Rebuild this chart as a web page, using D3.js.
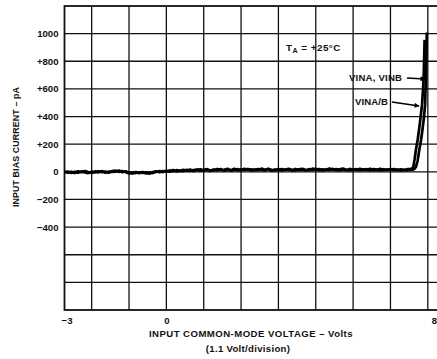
<!DOCTYPE html>
<html><head><meta charset="utf-8">
<script src="https://cdn.jsdelivr.net/npm/d3@7"></script>
<style>
html,body{margin:0;padding:0;background:#fff;}
svg{display:block;font-family:"Liberation Sans",Arial,Helvetica,sans-serif;font-weight:bold;}
</style></head><body>
<script>
// ---- data ----
const yTickValues = [1000, 800, 600, 400, 200, 0, -200, -400];
const yTickLabels = ["1000", "+800", "+600", "+400", "+200", "0", "\u2212200", "\u2212400"];
const xTickValues = [-3, 0, 8];
const xTickLabels = ["\u22123", "0", "8"];
const seriesNames = ["VINA, VINB", "VINA/B"];

const voltsFlat = [-3.0,-2.9,-2.8,-2.7,-2.6,-2.5,-2.4,-2.3,-2.2,-2.1,-2.0,-1.9,-1.8,-1.7,-1.6,-1.5,-1.4,-1.3,-1.2,-1.1,
 -1.0,-0.9,-0.8,-0.7,-0.6,-0.5,-0.4,-0.3,-0.2,-0.1,0.0,0.1,0.2,0.3,0.4,0.5,0.6,0.7,0.8,0.9,
 1.0,1.1,1.2,1.3,1.4,1.5,1.6,1.7,1.8,1.9,2.0,2.1,2.2,2.3,2.4,2.5,2.6,2.7,2.8,2.9,
 3.0,3.1,3.2,3.3,3.4,3.5,3.6,3.7,3.8,3.9,4.0,4.1,4.2,4.3,4.4,4.5,4.6,4.7,4.8,4.9,
 5.0,5.1,5.2,5.3,5.4,5.5,5.6,5.7,5.8,5.9,6.0,6.1,6.2,6.3,6.4,6.5,6.6,6.7,6.8,6.9,
 7.0,7.1,7.2];
const currentFlatA = [-5,2,-8,0,-6,3,-4,-9,1,-5,4,-3,2,-6,5,8,0,6,-2,-12,
 -6,-9,-3,-8,-4,-14,-2,4,-3,6,2,10,4,12,6,14,8,16,5,13,
 18,9,15,7,17,11,20,8,16,12,22,10,18,13,21,9,17,12,23,14,
 19,8,16,11,20,13,18,9,21,12,17,10,19,14,22,11,18,13,24,15,
 20,10,17,12,21,14,19,11,18,13,22,12,16,10,19,13,21,12,17,9,
 15,11,18];
const currentFlatB = [2,-7,1,-9,4,-3,5,-2,-8,3,-4,6,-7,1,-1,2,9,-3,4,-6,
 -12,-2,-10,-1,-12,-5,-9,0,5,-2,8,1,13,3,9,5,15,7,12,17,
 8,14,19,10,12,21,13,15,22,9,14,19,11,22,15,18,11,20,16,10,
 22,15,12,20,9,17,22,14,11,18,21,15,12,23,16,20,9,17,14,21,
 12,18,23,15,11,17,13,22,14,19,10,20,15,22,12,17,14,20,11,18,
 13,19,22];
const voltsRiseA = [7.25,7.30,7.35,7.40,7.45,7.50,7.53,7.58,7.62,7.645,7.66,7.67];
const currentRiseA = [14,20,35,80,160,230,283,380,486,703,850,1008];
const voltsRiseB = [7.25,7.28,7.31,7.35,7.40,7.43,7.48,7.53,7.56,7.58,7.60,7.605];
const currentRiseB = [25,45,90,160,230,283,380,486,600,703,900,955];

// ---- layout ----
const W = 437, H = 359;
const FONT = '"Liberation Sans",Arial,sans-serif';
const svg = d3.select("body").append("svg").attr("width", W).attr("height", H);
const x = d3.scaleLinear().domain([-3, 8]).range([64.5, 438]);
const y = d3.scaleLinear().domain([-1000, 1200]).range([310, 6]);

// grid
const vLines = [];
for (let k = -2; k <= 7; k++) vLines.push(+(k * 1.1).toFixed(2));
const hLines = d3.range(-800, 1200, 200);
const grid = svg.append("g").attr("stroke", "#111").attr("stroke-width", 1.3);
grid.selectAll("line.v").data(vLines).join("line")
  .attr("x1", d => x(d)).attr("x2", d => x(d)).attr("y1", y(1200)).attr("y2", y(-1000));
grid.selectAll("line.h").data(hLines).join("line")
  .attr("x1", x(-3)).attr("x2", x(8)).attr("y1", d => y(d)).attr("y2", d => y(d));
svg.append("rect").attr("x", x(-3)).attr("y", y(1200))
  .attr("width", x(8) - x(-3)).attr("height", y(-1000) - y(1200))
  .attr("fill", "none").attr("stroke", "#111").attr("stroke-width", 1.8);

// axes labels
const yAxis = d3.axisLeft(y).tickValues(yTickValues)
  .tickFormat((d, i) => yTickLabels[i]).tickSize(0).tickPadding(6);
const gy = svg.append("g").attr("transform", `translate(${x(-3)},0)`).call(yAxis);
gy.select(".domain").remove();
gy.selectAll("text").attr("font-size", 9.6).attr("font-weight", "bold")
  .attr("font-family", FONT).attr("fill", "#111");

const xAxis = d3.axisBottom(x).tickValues(xTickValues)
  .tickFormat((d, i) => xTickLabels[i]).tickSize(0).tickPadding(7);
const gx = svg.append("g").attr("transform", `translate(0,${y(-1000)})`).call(xAxis);
gx.select(".domain").remove();
gx.selectAll("text").attr("font-size", 9.6).attr("font-weight", "bold")
  .attr("font-family", FONT).attr("fill", "#111")
  .attr("dx", (d, i) => i === 0 ? 2 : (i === 2 ? -4 : 0));

// titles
svg.append("text").attr("x", 251).attr("y", 337).attr("text-anchor", "middle")
  .attr("font-size", 9.6).attr("letter-spacing", 0.45).attr("fill", "#111")
  .text("INPUT COMMON-MODE VOLTAGE \u2013 Volts");
svg.append("text").attr("x", 248).attr("y", 352).attr("text-anchor", "middle")
  .attr("font-size", 9.6).attr("letter-spacing", 0.3).attr("fill", "#111").text("(1.1 Volt/division)");
svg.append("text").attr("transform", "translate(19,147) rotate(-90)").attr("text-anchor", "middle")
  .attr("font-size", 8.9).attr("letter-spacing", 0.1).attr("fill", "#111").text("INPUT BIAS CURRENT \u2013 pA");

// curves
const line = d3.line().x(d => x(d[0])).y(d => y(d[1]));
const seriesA = voltsFlat.map((v, i) => [v, currentFlatA[i]]).concat(voltsRiseA.map((v, i) => [v, currentRiseA[i]]));
const seriesB = voltsFlat.map((v, i) => [v, currentFlatB[i]]).concat(voltsRiseB.map((v, i) => [v, currentRiseB[i]]));
svg.selectAll("path.trace").data([seriesA, seriesB]).join("path")
  .attr("class", "trace").attr("d", line)
  .attr("fill", "none").attr("stroke", "#000").attr("stroke-width", 2.7).attr("stroke-linejoin", "round");

// annotations
const ta = svg.append("text").attr("x", 286).attr("y", 51).attr("font-size", 9.8)
  .attr("letter-spacing", 0.5).attr("fill", "#111");
ta.append("tspan").text("T");
ta.append("tspan").attr("font-size", 7).attr("dy", 2).text("A");
ta.append("tspan").attr("dy", -2).text(" = +25\u00B0C");

svg.append("defs").append("marker").attr("id", "ah").attr("viewBox", "0 0 10 10")
  .attr("refX", 9).attr("refY", 5).attr("markerWidth", 7).attr("markerHeight", 5)
  .attr("orient", "auto").attr("markerUnits", "userSpaceOnUse")
  .append("path").attr("d", "M0,0 L10,5 L0,10 Z").attr("fill", "#000");

svg.append("text").attr("x", 349).attr("y", 81).attr("font-size", 9.6)
  .attr("letter-spacing", 0.2).attr("fill", "#111").text(seriesNames[0]);
svg.append("line").attr("x1", 407).attr("y1", 78).attr("x2", 425).attr("y2", 79)
  .attr("stroke", "#000").attr("stroke-width", 1.5).attr("marker-end", "url(#ah)");
svg.append("text").attr("x", 355).attr("y", 105).attr("font-size", 9.6)
  .attr("letter-spacing", 0.1).attr("fill", "#111").text(seriesNames[1]);
svg.append("line").attr("x1", 392).attr("y1", 102).attr("x2", 419).attr("y2", 106)
  .attr("stroke", "#000").attr("stroke-width", 1.5).attr("marker-end", "url(#ah)");
</script>
</body></html>
